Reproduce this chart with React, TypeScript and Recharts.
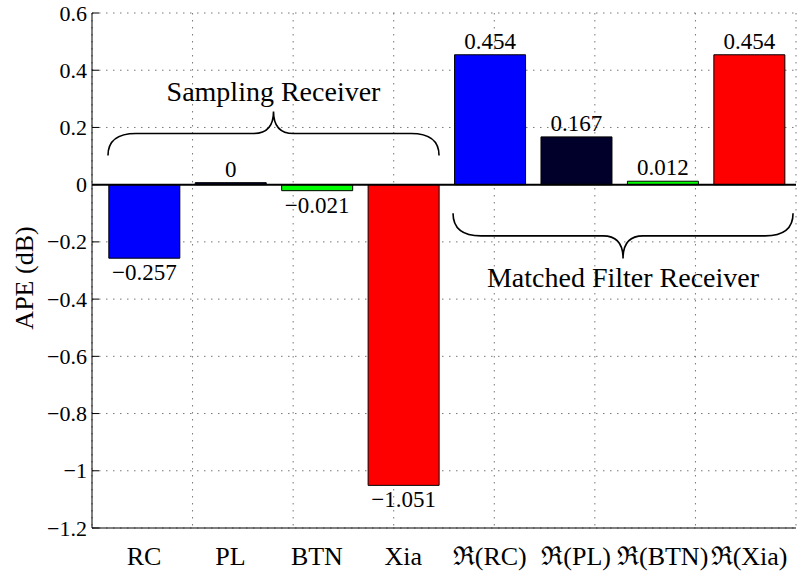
import {
  Bar,
  BarChart,
  CartesianGrid,
  Cell,
  LabelList,
  ReferenceArea,
  ReferenceLine,
  XAxis,
  YAxis,
} from 'recharts';

const categories = ['RC', 'PL', 'BTN', 'Xia', 'ℜ(RC)', 'ℜ(PL)', 'ℜ(BTN)', 'ℜ(Xia)'];
const apeValues = [-0.257, 0, -0.021, -1.051, 0.454, 0.167, 0.012, 0.454];
const barColors = ['#0000ff', '#00002a', '#00ff00', '#ff0000', '#0000ff', '#00002a', '#00ff00', '#ff0000'];
const yTicks = [-1.2, -1, -0.8, -0.6, -0.4, -0.2, 0, 0.2, 0.4, 0.6];
const gridTicks = [1, 2, 3, 4, 5, 6, 7, 8];

const data = categories.map((name, i) => ({
  pos: i + 1,
  name,
  ape: apeValues[i],
  color: barColors[i],
}));

const FONT = 'Liberation Serif, Times New Roman, DejaVu Serif, serif';
const PLOT_H = 515;
const TICK_LEN = 7;

const txt = (size: number) => ({ fontFamily: FONT, fontSize: size });

const minus = (s: string) => s.replace('-', '\u2212');

const fmtTick = (v: number) => minus(String(Math.round(v * 10) / 10));
const fmtValue = (v: number) => (v === 0 ? '0' : minus(v.toFixed(3)));

const LeftTick = ({ x, y, payload }: any) => (
  <g>
    <line x1={x} y1={y} x2={x + TICK_LEN} y2={y} stroke="#000" />
    <text x={x - 5} y={y + 7.5} textAnchor="end" style={txt(22)} fill="#000">
      {fmtTick(payload.value)}
    </text>
  </g>
);

const RightTick = ({ x, y }: any) => <line x1={x} y1={y} x2={x - TICK_LEN} y2={y} stroke="#000" />;

const TopTick = ({ x, y }: any) => (
  <g>
    <line x1={x} y1={y} x2={x} y2={y + TICK_LEN} stroke="#000" />
    <line x1={x} y1={y + PLOT_H} x2={x} y2={y + PLOT_H - TICK_LEN} stroke="#000" />
  </g>
);

const CatTick = ({ x, y, payload }: any) => (
  <text x={x} y={y + 37} textAnchor="middle" style={txt(26)} fill="#000">
    {categories[payload.value - 1]}
  </text>
);

const ValueLabel = (props: any) => {
  const vb = props.viewBox ?? props;
  const { x, y, width, height } = vb;
  const top = Math.min(y, y + height);
  const bottom = Math.max(y, y + height);
  const v = Number(props.value);
  return (
    <text
      x={x + width / 2}
      y={v >= 0 ? top - 6 : bottom + 22}
      textAnchor="middle"
      style={txt(23)}
      fill="#000"
    >
      {fmtValue(v)}
    </text>
  );
};

const YLabel = () => (
  <text
    x={33}
    y={278}
    transform="rotate(-90, 33, 278)"
    textAnchor="middle"
    style={txt(26)}
    fill="#000"
  >
    APE (dB)
  </text>
);

// curly brace, tip up (label above) or tip down (label below)
const Brace = ({ x, y, width, height, up, label }: any) => {
  const x0 = x;
  const x1 = x + width;
  const xc = x + width / 2;
  const ends = up ? y + height : y;
  const tip = up ? y : y + height;
  const ym = y + height / 2;
  const r = 28;
  const r2 = 20;
  const d = [
    `M${x0},${ends}`,
    `Q${x0},${ym} ${x0 + r},${ym}`,
    `L${xc - r2},${ym}`,
    `Q${xc},${ym} ${xc},${tip}`,
    `Q${xc},${ym} ${xc + r2},${ym}`,
    `L${x1 - r},${ym}`,
    `Q${x1},${ym} ${x1},${ends}`,
  ].join(' ');
  return (
    <g>
      <path d={d} fill="none" stroke="#000" strokeWidth={1.6} />
      <text
        x={xc}
        y={up ? tip - 10 : tip + 29}
        textAnchor="middle"
        style={txt(28)}
        fill="#000"
      >
        {label}
      </text>
    </g>
  );
};

export default function App() {
  return (
    <div style={{ position: 'absolute', left: 0, top: 0, background: '#fff', fontFamily: FONT }}>
      <BarChart
        width={801}
        height={572}
        data={data}
        margin={{ top: 13, right: 5, bottom: 0, left: 0 }}
      >
        <CartesianGrid
          xAxisId="g"
          yAxisId="left"
          stroke="#777"
          strokeDasharray="1.5 5.5"
        />
        <XAxis
          xAxisId="cat"
          dataKey="pos"
          type="number"
          domain={[0.398, 8.543]}
          ticks={gridTicks}
          allowDataOverflow
          height={44}
          tickSize={0}
          tickMargin={0}
          tickLine={false}
          axisLine={{ stroke: '#000' }}
          tick={<CatTick />}
          interval={0}
        />
        <XAxis
          xAxisId="g"
          orientation="top"
          type="number"
          domain={[0, 9]}
          ticks={gridTicks}
          height={0}
          tickSize={0}
          tickMargin={0}
          tickLine={false}
          axisLine={{ stroke: '#000' }}
          tick={<TopTick />}
          interval={0}
        />
        <YAxis
          yAxisId="left"
          type="number"
          domain={[-1.2, 0.6]}
          ticks={yTicks}
          width={92}
          tickSize={0}
          tickMargin={0}
          tickLine={false}
          axisLine={{ stroke: '#000' }}
          tick={<LeftTick />}
          interval={0}
          label={() => <YLabel />}
        />
        <YAxis
          yAxisId="r"
          orientation="right"
          type="number"
          domain={[-1.2, 0.6]}
          ticks={yTicks}
          width={0}
          tickSize={0}
          tickMargin={0}
          tickLine={false}
          axisLine={{ stroke: '#000' }}
          tick={<RightTick />}
          interval={0}
        />
        <Bar
          xAxisId="cat"
          yAxisId="left"
          dataKey="ape"
          barSize={71}
          minPointSize={2}
          stroke="#000"
          strokeWidth={1}
          isAnimationActive={false}
        >
          {data.map((d) => (
            <Cell key={d.name} fill={d.color} />
          ))}
          <LabelList dataKey="ape" content={ValueLabel} />
        </Bar>
        <ReferenceLine xAxisId="cat" yAxisId="left" y={0} stroke="#000" strokeWidth={2} />
        <ReferenceArea
          xAxisId="cat"
          yAxisId="left"
          x1={0.583}
          x2={4.413}
          y1={0.102}
          y2={0.256}
          shape={(p: any) => <Brace {...p} up label="Sampling Receiver" />}
        />
        <ReferenceArea
          xAxisId="cat"
          yAxisId="left"
          x1={4.575}
          x2={8.509}
          y1={-0.258}
          y2={-0.1}
          shape={(p: any) => <Brace {...p} up={false} label="Matched Filter Receiver" />}
        />
      </BarChart>
    </div>
  );
}
